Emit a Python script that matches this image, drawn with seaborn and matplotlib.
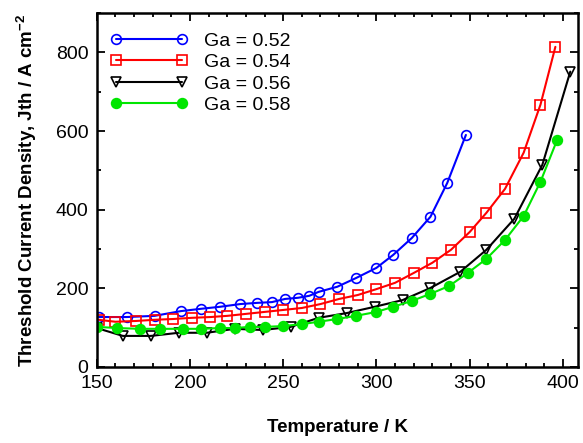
import matplotlib
matplotlib.use("Agg")
import matplotlib.pyplot as plt
import seaborn as sns
import numpy as np
from matplotlib.ticker import MultipleLocator

# ---- data ----
t_052 = [151, 166, 181, 195, 206, 216, 227, 236, 244, 251, 258, 264, 269, 279, 289, 300, 309, 319, 329, 338, 348]
j_052 = [127, 127, 130, 142, 148, 153, 160, 163, 165, 173, 176, 181, 191, 204, 226, 252, 285, 328, 382, 468, 590]

t_054 = [151, 160, 171, 181, 191, 201, 211, 220, 230, 240, 250, 260, 270, 280, 290, 300, 310, 320, 330, 340, 350, 359, 369, 379, 388, 396]
j_054 = [120, 115, 117, 120, 122, 125, 127, 130, 135, 140, 145, 150, 160, 173, 183, 198, 214, 239, 265, 298, 343, 392, 453, 545, 667, 814]

t_056 = [150, 164, 179, 194, 209, 224, 239, 254, 269, 284, 299, 314, 329, 345, 359, 374, 389, 404]
j_056 = [99, 79, 79, 87, 87, 97, 94, 102, 125, 137, 153, 170, 201, 242, 298, 377, 514, 751]

t_058 = [150, 161, 173, 184, 196, 206, 216, 224, 232, 240, 250, 260, 269, 279, 289, 300, 309, 319, 329, 339, 349, 359, 369, 379, 388, 397]
j_058 = [102, 99, 97, 97, 97, 97, 99, 99, 102, 102, 104, 109, 115, 122, 130, 140, 153, 168, 186, 206, 239, 275, 323, 384, 471, 578]

labels = ["Ga = 0.52", "Ga = 0.54", "Ga = 0.56", "Ga = 0.58"]
x_ticks = [150, 200, 250, 300, 350, 400]
y_ticks = [0, 200, 400, 600, 800]

sns.set_style("ticks")
plt.rcParams['font.family'] = ['Liberation Sans', 'DejaVu Sans']
plt.rcParams['mathtext.fontset'] = 'custom'
plt.rcParams['mathtext.rm'] = 'Liberation Sans'
plt.rcParams['mathtext.bf'] = 'Liberation Sans:bold'
for k in ['text.color', 'axes.labelcolor', 'xtick.color', 'ytick.color', 'axes.edgecolor']:
    plt.rcParams[k] = 'black'

fig = plt.figure(figsize=(5.83, 4.43), dpi=100)
ax = fig.add_axes([0.166, 0.1716, 0.825, 0.799])

series = [
    (t_052, j_052, labels[0], "#0000ff", "o", "none", 7.0),
    (t_054, j_054, labels[1], "#ff0000", "s", "none", 7.5),
    (t_056, j_056, labels[2], "#000000", "v", "none", 7.5),
    (t_058, j_058, labels[3], "#00e600", "o", "#00e600", 7.0),
]
for x, y, lab, col, mk, fc, ms in series:
    sns.lineplot(x=x, y=y, ax=ax, color=col, marker=mk, markersize=ms,
                 markerfacecolor=fc, markeredgecolor=col, markeredgewidth=1.2,
                 linewidth=1.5, label=lab, sort=False)

ax.set_xlim(150, 408)
ax.set_ylim(0, 900)
ax.set_xticks(x_ticks)
ax.set_yticks(y_ticks)
ax.xaxis.set_minor_locator(MultipleLocator(10))
ax.yaxis.set_minor_locator(MultipleLocator(100))
ax.tick_params(which="both", direction="in", top=True, right=True, labelsize=14, width=1.3, colors="black")
ax.tick_params(which="major", length=6, pad=6)
ax.tick_params(which="minor", length=3)
for s in ax.spines.values():
    s.set_linewidth(1.8)
    s.set_color("black")

ax.set_xlabel("Temperature / K", fontsize=13.5, fontweight="bold", labelpad=19, color="black")
ax.set_ylabel(r"Threshold Current Density, Jth / A cm$^{\mathbf{-2}}$", fontsize=13.5,
              fontweight="bold", labelpad=12, color="black")

leg = ax.legend(loc="upper left", frameon=False, fontsize=14, handlelength=4.0,
                numpoints=2, labelspacing=0.2, handletextpad=0.8,
                borderaxespad=0.3, bbox_to_anchor=(0.0, 0.985))

fig.savefig("out.png", dpi=100)
